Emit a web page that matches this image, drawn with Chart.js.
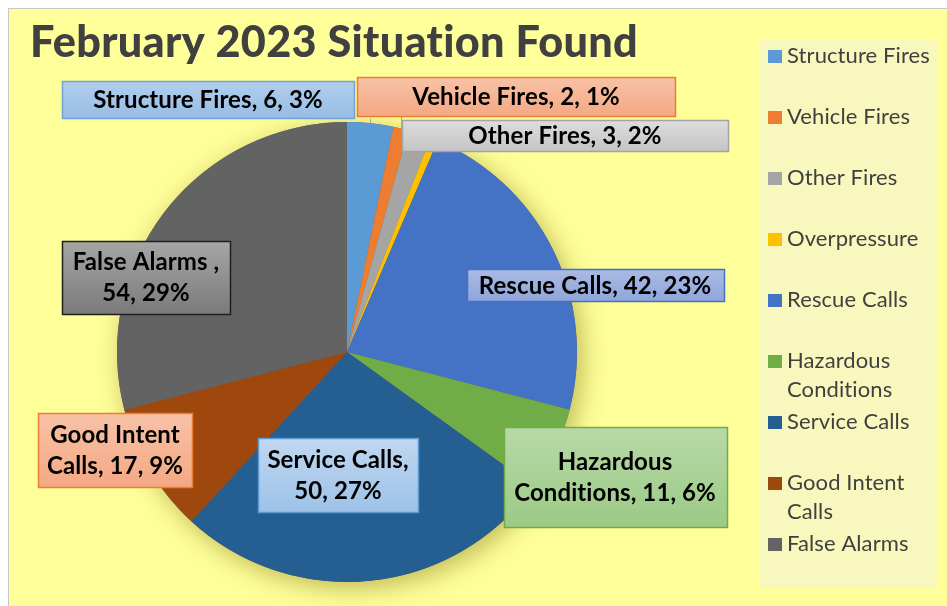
<!DOCTYPE html>
<html>
<head>
<meta charset="utf-8">
<script src="https://cdn.jsdelivr.net/npm/chart.js@4"></script>
<style>
    body { margin: 0; background: #fff; }
    canvas { display: block; }
</style>
</head>
<body>
<canvas id="myChart" width="947" height="606"></canvas>
<script>
// data
const titleText = 'February 2023 Situation Found';
const categories = ['Structure Fires', 'Vehicle Fires', 'Other Fires', 'Overpressure', 'Rescue Calls',
    'Hazardous Conditions', 'Service Calls', 'Good Intent Calls', 'False Alarms '];
const counts = [6, 2, 3, 1, 42, 11, 50, 17, 54];

const sliceColors = ['#5B9BD5', '#ED7D31', '#A5A5A5', '#FFC000', '#4472C4',
    '#70AD47', '#255E91', '#9E480E', '#636363'];

// label boxes, offset from pie centre (px), null = no label
const labelBoxes = [
    { dx: -139, dy: -253, w: 292, h: 37, fill: ['#B2CEEC', '#97BDE4'], border: '#6FA3D6', leader: true },
    { dx: 169, dy: -256, w: 318, h: 39, fill: ['#F8C2A6', '#F4A884'], border: '#ED7D31', leader: true },
    { dx: 218, dy: -217, w: 326, h: 31, fill: ['#DDDDDD', '#C4C4C4'], border: '#A5A5A5' },
    null,
    { dx: 248, dy: -67, w: 257, h: 32, fill: ['#AABAE3', '#8FA5DA'], border: '#4472C4' },
    { dx: 268, dy: 125, w: 223, h: 100, fill: ['#B7D9A7', '#9CCA86'], border: '#70AD47' },
    { dx: -9, dy: 123, w: 160, h: 74, fill: ['#C0D7F0', '#9DC2E7'], border: '#5B9BD5' },
    { dx: -232, dy: 98, w: 154, h: 74, fill: ['#F8C2A6', '#F4A884'], border: '#ED7D31' },
    { dx: -201, dy: -75, w: 168, h: 73, fill: ['#A6A6A6', '#7A7A7A'], border: '#1F1F1F' }
];

const total = counts.reduce((a, b) => a + b, 0);

function wrapText(ctx, text, maxW) {
    const words = text.split(' ');
    const lines = [];
    let cur = '';
    words.forEach(function (w) {
        const test = cur ? cur + ' ' + w : w;
        if (cur && ctx.measureText(test).width > maxW) {
            lines.push(cur);
            cur = w;
        } else {
            cur = test;
        }
    });
    if (cur) lines.push(cur);
    return lines;
}

const backgroundPlugin = {
    id: 'background',
    beforeDraw(chart) {
        const ctx = chart.ctx;
        ctx.save();
        ctx.fillStyle = '#FFFFFF';
        ctx.fillRect(0, 0, chart.width, chart.height);
        ctx.fillStyle = '#FFFF99';
        ctx.fillRect(8, 8, chart.width - 8, chart.height - 8);
        ctx.strokeStyle = '#C8C8C8';
        ctx.lineWidth = 1;
        ctx.strokeRect(8.5, 8.5, chart.width, chart.height);

        // title (small letter spacing keeps the "ti" from joining)
        ctx.letterSpacing = '0.3px';
        ctx.fillStyle = '#404040';
        ctx.font = '900 44px Lato';
        ctx.textBaseline = 'alphabetic';
        ctx.textAlign = 'left';
        ctx.fillText(titleText, 30, 57, 608);

        // legend
        ctx.fillStyle = '#F8F8BE';
        ctx.fillRect(759, 40, 179, 548);
        ctx.letterSpacing = '0.1px';
        ctx.font = '22px Lato';
        ctx.textBaseline = 'middle';
        categories.forEach(function (c, i) {
            const y = 56 + i * 61;
            ctx.fillStyle = sliceColors[i];
            ctx.fillRect(768, y - 6, 14, 13);
            ctx.fillStyle = '#404040';
            wrapText(ctx, c.trim(), 150).forEach(function (line, j) {
                ctx.fillText(line, 787, y + j * 29);
            });
        });
        ctx.restore();
    },
    beforeDatasetsDraw(chart) {
        // soft shadow under the pie
        const arc = chart.getDatasetMeta(0).data[0];
        const ctx = chart.ctx;
        ctx.save();
        ctx.shadowColor = 'rgba(110, 100, 0, 0.45)';
        ctx.shadowBlur = 26;
        ctx.shadowOffsetX = 5;
        ctx.shadowOffsetY = 6;
        ctx.fillStyle = '#636363';
        ctx.beginPath();
        ctx.arc(arc.x, arc.y, arc.outerRadius, 0, Math.PI * 2);
        ctx.fill();
        ctx.restore();
    }
};

const labelPlugin = {
    id: 'boxLabels',
    afterDatasetsDraw(chart) {
        const ctx = chart.ctx;
        const meta = chart.getDatasetMeta(0);
        ctx.save();
        ctx.letterSpacing = '0.1px';
        ctx.font = 'bold 24px Lato';
        ctx.textAlign = 'center';
        ctx.textBaseline = 'middle';
        meta.data.forEach(function (arc, i) {
            const b = labelBoxes[i];
            if (!b) return;
            const cx = arc.x + b.dx;
            const cy = arc.y + b.dy;
            const x0 = Math.round(cx - b.w / 2) + 0.5;
            const y0 = Math.round(cy - b.h / 2) + 0.5;

            if (b.leader) {
                const mid = (arc.startAngle + arc.endAngle) / 2;
                const px = arc.x + Math.cos(mid) * arc.outerRadius;
                const py = arc.y + Math.sin(mid) * arc.outerRadius;
                ctx.strokeStyle = '#A6A6A6';
                ctx.lineWidth = 1;
                ctx.beginPath();
                ctx.moveTo(Math.round(px) + 0.5, py);
                ctx.lineTo(Math.round(px) + 0.5, y0 + b.h);
                ctx.stroke();
            }

            const g = ctx.createLinearGradient(0, y0, 0, y0 + b.h);
            g.addColorStop(0, b.fill[0]);
            g.addColorStop(1, b.fill[1]);
            ctx.fillStyle = g;
            ctx.fillRect(x0, y0, b.w, b.h);
            ctx.strokeStyle = b.border;
            ctx.lineWidth = 1.5;
            ctx.strokeRect(x0, y0, b.w, b.h);

            const pct = Math.round(counts[i] / total * 100);
            const text = categories[i] + ', ' + counts[i] + ', ' + pct + '%';
            const lines = wrapText(ctx, text, b.w - 10);
            const lh = 31;
            lines.forEach(function (line, j) {
                ctx.fillStyle = '#000000';
                ctx.fillText(line, cx, cy + (j - (lines.length - 1) / 2) * lh + 1);
            });
        });
        ctx.restore();
    }
};

const data = {
    labels: categories,
    datasets: [{
        data: counts,
        backgroundColor: sliceColors,
        borderWidth: 0
    }]
};

const config = {
    type: 'pie',
    data: data,
    options: {
        responsive: false,
        animation: false,
        layout: {
            padding: { left: 117, right: 370, top: 122, bottom: 24 }
        },
        plugins: {
            legend: { display: false },
            tooltip: { enabled: false },
            title: { display: false }
        }
    },
    plugins: [backgroundPlugin, labelPlugin]
};

const myChart = new Chart(document.getElementById('myChart'), config);
</script>
</body>
</html>
